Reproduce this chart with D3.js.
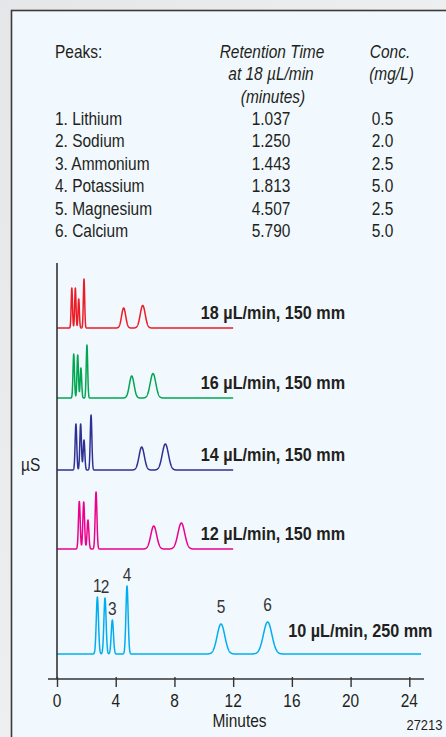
<!DOCTYPE html>
<html>
<head>
<meta charset="utf-8">
<script src="https://cdn.jsdelivr.net/npm/d3@7"></script>
<style>
  html, body { margin: 0; padding: 0; background: #fff; }
  svg { display: block; }
</style>
</head>
<body>
<svg id="chart" width="446" height="737"></svg>
<script>
// peak table
const peakNames = ['1. Lithium', '2. Sodium', '3. Ammonium', '4. Potassium', '5. Magnesium', '6. Calcium'];
const retentionTimes = ['1.037', '1.250', '1.443', '1.813', '4.507', '5.790'];
const concentrations = ['0.5', '2.0', '2.5', '5.0', '2.5', '5.0'];

// chromatograms, top to bottom
const runLabels = ['18 µL/min, 150 mm', '16 µL/min, 150 mm', '14 µL/min, 150 mm', '12 µL/min, 150 mm', '10 µL/min, 250 mm'];
const runOffsets = [351, 281, 209, 130, 25];          // baseline (µS, arbitrary)
const runEnds = [12, 12, 12, 12, 24.8];              // minutes
const peakTimes = [
  [1.01, 1.25, 1.48, 1.84, 4.54, 5.84],
  [1.14, 1.41, 1.63, 2.04, 5.09, 6.54],
  [1.29, 1.61, 1.84, 2.32, 5.77, 7.38],
  [1.52, 1.82, 2.11, 2.66, 6.59, 8.47],
  [2.75, 3.27, 3.77, 4.77, 11.17, 14.35]
];
const peakHeights = [
  [40, 40, 29, 49, 20, 22.5],
  [44, 43, 30, 53, 22, 24.5],
  [46, 46, 30, 55, 23, 26],
  [47.5, 47, 29, 57, 23, 26],
  [57, 56, 34, 68, 30, 32]
];
const peakWidths = [
  [0.045, 0.045, 0.045, 0.045, 0.14, 0.17],
  [0.05, 0.05, 0.05, 0.05, 0.16, 0.19],
  [0.055, 0.055, 0.055, 0.055, 0.18, 0.21],
  [0.06, 0.06, 0.06, 0.06, 0.2, 0.23],
  [0.075, 0.075, 0.075, 0.075, 0.26, 0.29]
];
const peakNumbers = ['1', '2', '3', '4', '5', '6'];
const minuteTicks = [0, 4, 8, 12, 16, 20, 24];

const traceColors = ['#ed1c24', '#00a651', '#2e3192', '#ec008c', '#00aeef'];
const ink = '#231f20';
const font = "'Liberation Sans', Arial, sans-serif";

const svg = d3.select('#chart');

// 背景
const defs = svg.append('defs');
const grad = defs.append('linearGradient').attr('id', 'bg').attr('x1', 0).attr('y1', 0).attr('x2', 1).attr('y2', 1);
grad.append('stop').attr('offset', '0%').attr('stop-color', '#e4e6e8');
grad.append('stop').attr('offset', '100%').attr('stop-color', '#f6f7f8');
svg.append('rect').attr('width', 446).attr('height', 737).attr('fill', 'url(#bg)');
svg.append('rect')
  .attr('x', 11.5).attr('y', 10.5).attr('width', 460).attr('height', 760)
  .attr('fill', '#f2f9fe').attr('stroke', '#3a3a3a').attr('stroke-width', 1.6);

// condensed text helper
function label(g, x, y, str, o = {}) {
  const size = o.size || 18;
  const sx = o.sx || 0.86;
  return g.append('text')
    .attr('transform', `translate(${x},${y}) scale(${sx},1)`)
    .attr('text-anchor', o.anchor || 'start')
    .attr('font-family', font)
    .attr('font-size', size + 'px')
    .attr('font-style', o.italic ? 'italic' : null)
    .attr('font-weight', o.bold ? 'bold' : null)
    .attr('fill', o.fill || ink)
    .text(str);
}

// 表格
const table = svg.append('g').attr('class', 'peak-table');
const rowY = d3.scaleLinear().domain([0, 1]).range([125, 147.4]);
label(table, 55, 58, 'Peaks:');
label(table, 272, 58, 'Retention Time', { anchor: 'middle', italic: true });
label(table, 271, 80, 'at 18 µL/min', { anchor: 'middle', italic: true });
label(table, 273, 102.5, '(minutes)', { anchor: 'middle', italic: true });
label(table, 390, 58, 'Conc.', { anchor: 'middle', italic: true });
label(table, 391.5, 80, '(mg/L)', { anchor: 'middle', italic: true });
peakNames.forEach((name, i) => {
  label(table, 55, rowY(i), name);
  label(table, 271, rowY(i), retentionTimes[i], { anchor: 'middle' });
  label(table, 382.5, rowY(i), concentrations[i], { anchor: 'middle' });
});

// 比例尺
const x = d3.scaleLinear().domain([0, 25]).range([57, 424]);
const y = d3.scaleLinear().domain([0, 416]).range([679, 263]);

// 色谱线
const line = d3.line().x(d => x(d[0])).y(d => y(d[1]));
const traces = svg.append('g').attr('class', 'traces');
runLabels.forEach((run, i) => {
  const pts = [];
  const n = Math.round(runEnds[i] / 0.01);
  for (let s = 0; s <= n; s++) {
    const t = s * 0.01;
    let v = runOffsets[i];
    peakTimes[i].forEach((tp, k) => {
      const z = (t - tp) / peakWidths[i][k];
      v += peakHeights[i][k] * Math.exp(-0.5 * z * z);
    });
    pts.push([t, v]);
  }
  traces.append('path')
    .datum(pts)
    .attr('d', line)
    .attr('fill', 'none')
    .attr('stroke', traceColors[i])
    .attr('stroke-width', 1.5)
    .attr('stroke-linejoin', 'round');

  const last = i === runLabels.length - 1;
  label(traces, last ? x(15.75) : x(9.8), y(runOffsets[i]) - (last ? 17 : 9), run,
    { bold: true, size: 18, sx: 0.9 });
});

// 峰编号（最下面的色谱）
const bottom = runLabels.length - 1;
peakNumbers.forEach((num, k) => {
  const gap = peakWidths[bottom][k] > 0.2 ? 11 : 5;
  label(traces, x(peakTimes[bottom][k]), y(runOffsets[bottom] + peakHeights[bottom][k]) - gap, num,
    { anchor: 'middle', fill: '#333' });
});

// 坐标轴
const axisG = svg.append('g').attr('class', 'axes');
axisG.append('line')
  .attr('x1', x(0)).attr('x2', x(0))
  .attr('y1', y(416)).attr('y2', y(0))
  .attr('stroke', '#333').attr('stroke-width', 1.6);
axisG.append('line')
  .attr('x1', x(0) - 9).attr('x2', x(25))
  .attr('y1', y(0)).attr('y2', y(0))
  .attr('stroke', '#333').attr('stroke-width', 1.6);

const xAxis = d3.axisBottom(x)
  .tickValues(minuteTicks)
  .tickSizeInner(8)
  .tickSizeOuter(0)
  .tickPadding(4)
  .tickFormat(d3.format('d'));

axisG.append('g')
  .attr('transform', `translate(0,${y(0)})`)
  .call(xAxis)
  .call(g => {
    g.select('.domain').remove();
    g.selectAll('.tick line').attr('stroke', '#333').attr('stroke-width', 1.4).attr('y1', -2);
    g.selectAll('.tick text').remove();
  });

minuteTicks.forEach(t => label(axisG, x(t), 706.5, String(t), { anchor: 'middle' }));
label(axisG, 239.5, 726.5, 'Minutes', { anchor: 'middle' });
label(axisG, 406.5, 729.5, '27213', { size: 15 });
label(axisG, 21, 471, 'µS');
</script>
</body>
</html>
